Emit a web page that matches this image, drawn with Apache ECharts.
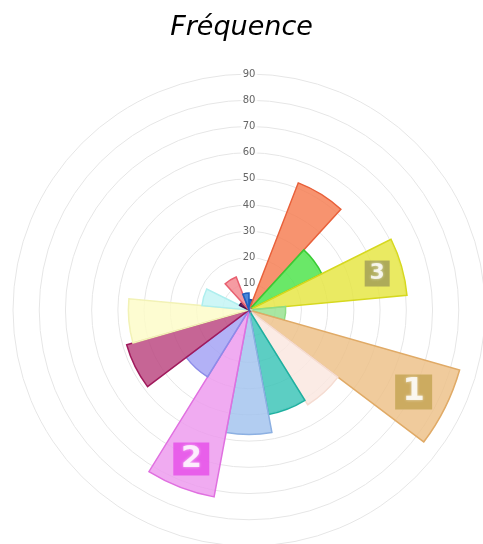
<!DOCTYPE html>
<html>
<head>
<meta charset="utf-8">
<script src="https://cdn.jsdelivr.net/npm/echarts@6/dist/echarts.min.js"></script>
<style>
    html, body { margin: 0; padding: 0; background: #fff; }
    #chartDiv { width: 483px; height: 544px; }
</style>
</head>
<body>
<div id="chartDiv"></div>
<script>
// secteurs, dans le sens des aiguilles d'une montre depuis le haut
var secteurs = ['S1', 'S2', 'S3', 'S4', 'S5', 'S6', 'S7', 'S8', 'S9',
    'S10', 'S11', 'S12', 'S13', 'S14', 'S15', 'S16', 'S17'];
var frequences = [4, 52, 31, 60.5, 14, 83.5, 42.5, 40.5, 47.5,
    72.5, 30, 48.5, 46, 18, 4, 13.5, 6.5];
var radiusTicks = [10, 20, 30, 40, 50, 60, 70, 80, 90];

var fillColors = ['#3566b8', '#f7936f', '#6ae868', '#eaea62', '#a8e6a2', '#f0cb9c',
    '#fbebe5', '#5ccec3', '#b2cdf1', '#f0abf1', '#b2b1f6', '#c66595',
    '#fdfcd1', '#cdf6f6', '#6a2a6a', '#f59ba2', '#4a88d9'];
var borderColors = ['#1d4c9e', '#e8603a', '#38cc34', '#d6d81e', '#8edc86', '#e0aa66',
    '#f5dcd2', '#1fb0a0', '#8cb0e2', '#e070e0', '#8c8ce8', '#a01a5c',
    '#f2f2b6', '#aeeeee', '#4a1050', '#e86070', '#1f60c0'];
var badgeColors = ['#c3a452', '#e64ce9', '#a09c58'];
var badgeSizes = [[37, 35], [36, 33], [25, 26]];
var badgeFonts = [32, 30, 22];

// même teinte sur fond blanc, mais un peu transparente (on voit la grille)
function seeThrough(hex, a) {
    var out = [];
    for (var k = 0; k < 3; k++) {
        var c = parseInt(hex.substr(1 + 2 * k, 2), 16);
        var c0 = Math.round((c - (1 - a) * 255) / a);
        out.push(Math.max(0, Math.min(255, c0)));
    }
    return 'rgba(' + out.join(',') + ',' + a + ')';
}

var myChart = echarts.init(document.getElementById('chartDiv'));

var barData = [];
for (var i = 0; i < frequences.length; i++) {
    barData.push({
        value: frequences[i],
        itemStyle: {
            color: seeThrough(fillColors[i], 0.85),
            borderColor: borderColors[i],
            borderWidth: 1.5
        }
    });
}

// classement des 3 plus grandes valeurs
var order = frequences.map(function (v, i) { return i; })
    .sort(function (a, b) { return frequences[b] - frequences[a]; });
var badgeData = [];
for (var r = 0; r < 3; r++) {
    var idx = order[r];
    badgeData.push({
        value: [frequences[idx] * 0.84, idx],
        symbolSize: badgeSizes[r],
        itemStyle: { color: badgeColors[r] },
        label: {
            show: true,
            formatter: String(r + 1),
            color: '#fff',
            fontSize: badgeFonts[r],
            fontFamily: 'DejaVu Sans',
            fontWeight: 'bold',
            textShadowColor: 'rgba(255,255,255,0.7)',
            textShadowBlur: 3
        }
    });
}

myChart.setOption({
    animation: false,
    title: {
        text: 'Fréquence',
        left: 'center',
        top: 9,
        textStyle: {
            fontFamily: 'DejaVu Sans',
            fontStyle: 'italic',
            fontWeight: 'normal',
            fontSize: 27,
            color: '#000'
        }
    },
    polar: {
        center: [249, 310],
        radius: 236
    },
    angleAxis: {
        type: 'category',
        data: secteurs,
        startAngle: 90,
        clockwise: true,
        boundaryGap: true,
        axisLine: { show: false },
        axisTick: { show: false },
        axisLabel: { show: false },
        splitLine: { show: false }
    },
    radiusAxis: {
        type: 'value',
        min: 0,
        max: radiusTicks[radiusTicks.length - 1],
        interval: 10,
        axisLine: { show: false },
        axisTick: { show: false },
        axisLabel: {
            showMinLabel: false,
            margin: 0,
            align: 'center',
            verticalAlign: 'middle',
            color: '#666',
            fontSize: 10,
            fontFamily: 'DejaVu Sans',
            backgroundColor: 'rgba(255,255,255,0.75)',
            padding: [1, 2]
        },
        splitLine: {
            show: true,
            lineStyle: { color: '#e6e6e6', width: 1 }
        }
    },
    series: [
        {
            type: 'bar',
            coordinateSystem: 'polar',
            barCategoryGap: '0%',
            data: barData,
            z: 2
        },
        {
            type: 'scatter',
            coordinateSystem: 'polar',
            symbol: 'rect',
            data: badgeData,
            z: 5
        }
    ]
});
</script>
</body>
</html>
